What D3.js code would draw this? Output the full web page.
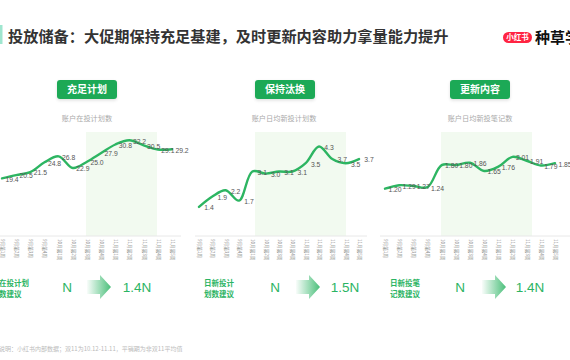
<!DOCTYPE html>
<html><head><meta charset="utf-8">
<script src="https://cdn.jsdelivr.net/npm/d3@7/dist/d3.min.js"></script>
<style>
html,body{margin:0;padding:0;background:#fff;overflow:hidden;}
svg{display:block;font-family:"Noto Sans CJK SC","Noto Sans",sans-serif;}
</style></head>
<body>
<svg id="c" width="570" height="360"></svg>
<script>
// ---- data ----
const weeks = ["9月第1周","9月第2周","9月第3周","9月第4周","10月第1周","10月第2周","10月第3周","10月第4周","11月第1周","11月第2周","11月第3周","11月第4周","11月第5周"];
const planCounts = [19.4,20.5,21.5,24.8,26.8,22.9,25.0,27.9,30.8,32.2,30.5,29.1,29.2];
const dailyNewPlans = [1.4,1.9,2.2,1.7,3.1,3.0,3.1,3.1,3.5,4.3,3.7,3.5,3.7];
const dailyNewNotes = [1.20,1.29,1.27,1.24,1.80,1.80,1.86,1.65,1.76,2.01,1.91,1.79,1.85];
const panelTitles = ["充足计划","保持汰换","更新内容"];
const panelSubtitles = ["账户在投计划数","账户日均新投计划数","账户日均新投笔记数"];
const suggestLabels = [["在投计划","数建议"],["日新投计","划数建议"],["日新投笔","记数建议"]];
const baseLabels = ["N","N","N"];
const boostLabels = ["1.4N","1.5N","1.4N"];
const labelFormats = [".1f",".1f",".2f"];
const yMax = [35,5,2.64];
const title = "投放储备：大促期保持充足基建，及时更新内容助力拿量能力提升";
const footnote = "数据说明：小红书内部数据；双11为10.12-11.11，平销期为非双11平均值";

const series = [planCounts, dailyNewPlans, dailyNewNotes];

// ---- layout ----
const panels = [
  {x0:2, x1:172, axL:-5, axR:181, band:[86,157], btn:57, sub:87, lab:-1, n:67, ar:87, bn:137},
  {x0:199, x1:359, axL:195, axR:367, band:[255,346], btn:255, sub:284, lab:204, n:275, ar:296, bn:345},
  {x0:385, x1:555, axL:380, axR:572, band:[441,532], btn:450, sub:480, lab:390, n:460, ar:482, bn:530}
];
const yBase = 236, yTop = 132;
const green = "#2bb463", btnGreen = "#1fa957";

const svg = d3.select("#c");
const defs = svg.append("defs");
const grad = defs.append("linearGradient").attr("id","arrowGrad").attr("x1","0%").attr("x2","100%");
grad.append("stop").attr("offset","0%").attr("stop-color",green).attr("stop-opacity",0.03);
grad.append("stop").attr("offset","100%").attr("stop-color",green).attr("stop-opacity",0.85);
const sh = defs.append("filter").attr("id","sh").attr("x","-20%").attr("y","-30%").attr("width","140%").attr("height","180%");
sh.append("feDropShadow").attr("dx",0).attr("dy",1.5).attr("stdDeviation",1.5).attr("flood-color","#000").attr("flood-opacity",0.12);

// header
svg.append("rect").attr("x",0).attr("y",25).attr("width",2.5).attr("height",19).attr("fill","#9fe6cf");
svg.append("text").attr("x",8).attr("y",41.5).attr("font-size",15.2).attr("font-weight",700).attr("fill","#333").text(title);
svg.append("rect").attr("x",503).attr("y",32).attr("width",29).attr("height",11).attr("rx",5.5).attr("fill","#ff2442");
svg.append("text").attr("x",517.5).attr("y",40.3).attr("text-anchor","middle").attr("font-size",7.5).attr("font-weight",700).attr("fill","#fff").text("小红书");
svg.append("text").attr("x",535).attr("y",43).attr("font-size",15).attr("font-weight",700).attr("fill","#111").text("种草学堂");

panels.forEach((p,i)=>{
  const data = series[i];
  const x = d3.scalePoint().domain(weeks).range([p.x0,p.x1]);
  const y = d3.scaleLinear().domain([0,yMax[i]]).range([yBase,yTop]);
  const g = svg.append("g");

  // highlight band
  g.append("rect").attr("x",p.band[0]).attr("y",yTop).attr("width",p.band[1]-p.band[0]).attr("height",yBase-yTop).attr("fill","#f2faf0");

  // button
  g.append("rect").attr("x",p.btn).attr("y",80).attr("width",60).attr("height",19).attr("rx",3).attr("fill",btnGreen).attr("filter","url(#sh)");
  g.append("text").attr("x",p.btn+30).attr("y",93.3).attr("text-anchor","middle").attr("font-size",10).attr("font-weight",700).attr("fill","#fff").text(panelTitles[i]);
  g.append("text").attr("x",p.sub).attr("y",121).attr("text-anchor","middle").attr("font-size",7.2).attr("fill","#aaa").text(panelSubtitles[i]);

  // baseline
  g.append("line").attr("x1",p.axL).attr("x2",p.axR).attr("y1",yBase).attr("y2",yBase).attr("stroke","#e8e8e8").attr("stroke-width",1);

  // axis labels
  const ax = g.append("g").attr("transform",`translate(0,${yBase})`).call(d3.axisBottom(x).tickSize(0).tickPadding(0));
  ax.select(".domain").remove();
  ax.selectAll("text").attr("font-size",4.6).attr("fill","#888")
    .attr("font-family","'Noto Sans CJK SC',sans-serif")
    .attr("transform","rotate(90)").attr("text-anchor","start").attr("x",3).attr("y",0).attr("dy","0.35em");

  // line
  const line = d3.line().x((d,j)=>x(weeks[j])).y(d=>y(d)).curve(d3.curveCatmullRom.alpha(0.5));
  g.append("path").datum(data).attr("d",line).attr("fill","none").attr("stroke","#2db562").attr("stroke-width",2.4).attr("stroke-linecap","round");

  // value labels
  const fmt = d3.format(labelFormats[i]);
  g.selectAll(".v").data(data).join("text").attr("class","v")
    .attr("x",(d,j)=>x(weeks[j])+10).attr("y",d=>y(d)+1).attr("dy","0.35em")
    .attr("text-anchor","middle").attr("font-size",6.8).attr("fill","#555")
    .attr("font-family","'Liberation Sans',Arial,sans-serif").text(d=>fmt(d));

  // bottom suggestion row
  suggestLabels[i].forEach((t,k)=>{
    g.append("text").attr("x",p.lab).attr("y",286+k*11).attr("font-size",7.5).attr("font-weight",700).attr("fill",green).text(t);
  });
  g.append("text").attr("x",p.n).attr("y",292).attr("text-anchor","middle").attr("font-size",13.5).attr("fill",green)
    .attr("font-family","'Liberation Sans',Arial,sans-serif").text(baseLabels[i]);
  const a = p.ar, cy = 287;
  g.append("path").attr("d",`M${a},${cy-7}L${a+13},${cy-7}L${a+13},${cy-12}L${a+24},${cy}L${a+13},${cy+12}L${a+13},${cy+7}L${a},${cy+7}Z`).attr("fill","url(#arrowGrad)");
  g.append("text").attr("x",p.bn).attr("y",292).attr("text-anchor","middle").attr("font-size",13.5).attr("fill",green)
    .attr("font-family","'Liberation Sans',Arial,sans-serif").text(boostLabels[i]);
});

svg.append("text").attr("x",-13).attr("y",351).attr("font-size",6).attr("fill","#bbb").text(footnote);
</script>
</body></html>
